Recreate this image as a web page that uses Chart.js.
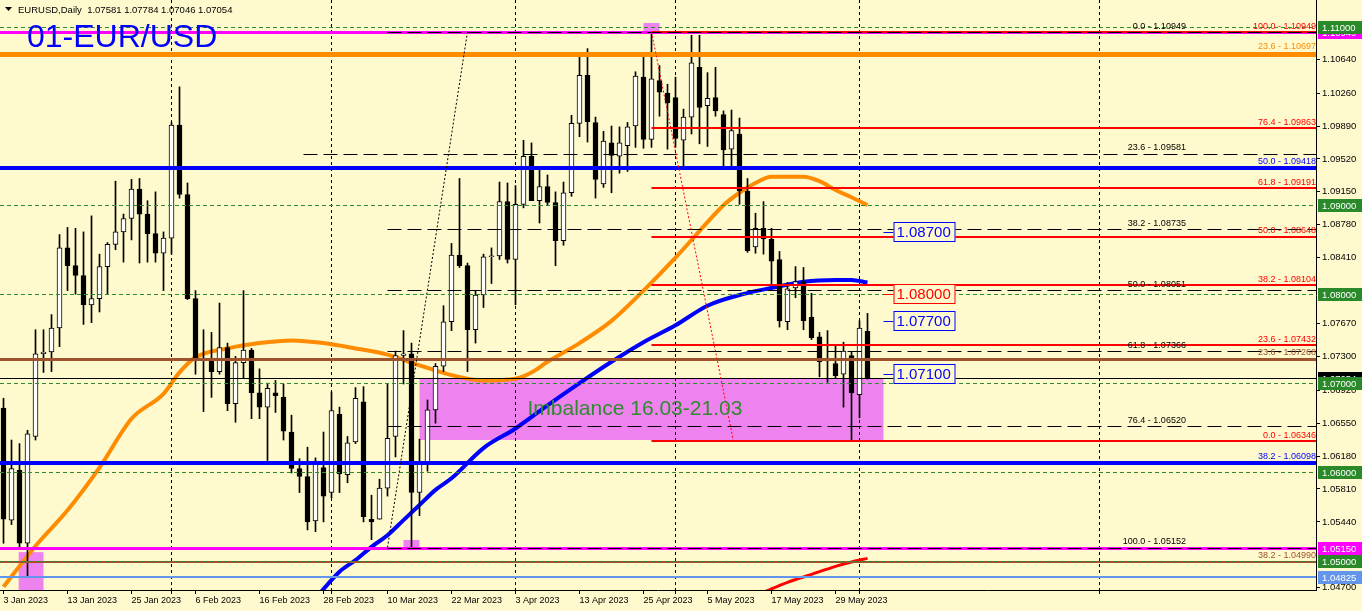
<!DOCTYPE html>
<html>
<head>
<meta charset="UTF-8">
<title>EURUSD Daily</title>
<script src="https://cdn.jsdelivr.net/npm/chart.js@4"></script>
<style>
  html, body { margin: 0; padding: 0; background: #fffacd; overflow: hidden; }
  canvas { display: block; }
</style>
</head>
<body>
<canvas id="c" width="1362" height="611"></canvas>
<script>
// daily candles, 3 Jan 2023 .. 2 Jun 2023 (index = bar number)
const opens = [1.0672,1.0546,1.0602,1.0520,1.0640,1.0733,1.0735,1.0762,1.0852,1.0832,1.0821,1.0788,1.0795,1.0831,1.0856,1.0870,1.0885,1.0918,1.0890,1.0868,1.0846,
  1.0863,1.0990,1.0912,1.0795,1.0727,1.0728,1.0713,1.0740,1.0677,1.0723,1.0737,1.0689,1.0673,1.0689,1.0684,1.0645,1.0604,1.0595,1.0545,1.0605,
  1.0577,1.0665,1.0597,1.0634,1.0679,1.0547,1.0547,1.0582,1.0640,1.0731,1.0733,1.0577,1.0611,1.0670,1.0719,1.0769,1.0844,1.0832,1.0760,1.0799,1.0842,1.0843,1.0904,
  1.0839,1.0901,1.0955,1.0905,1.0921,1.0903,1.0860,1.0914,1.0992,1.1046,1.0993,1.0924,1.0970,1.0955,1.0967,1.0989,1.1044,1.0974,1.1040,1.1026,
  1.1021,1.0973,1.0999,1.1055,1.1012,1.1021,1.1002,1.0963,1.0980,1.0916,1.0853,1.0874,1.0862,1.0839,1.0769,1.0807,1.0814,1.0774,1.0752,1.0726,1.0722,1.0710,1.0731,
  1.0687,1.07581];
const highs = [1.0683,1.0636,1.0632,1.0647,1.0760,1.0760,1.0777,1.0867,1.0875,1.0874,1.0870,1.0888,1.0845,1.0858,1.0927,1.0890,1.0929,1.0930,1.0905,1.0915,1.0870,
  1.0993,1.1033,1.0925,1.0804,1.0760,1.0757,1.0790,1.0745,1.0730,1.0804,1.0739,1.0716,1.0700,1.0703,1.0699,1.0664,1.0615,1.0628,1.0616,1.0645,
  1.0690,1.0673,1.0640,1.0695,1.0696,1.0574,1.0592,1.0699,1.0736,1.0759,1.0745,1.0637,1.0681,1.0722,1.0787,1.0857,1.0930,1.0835,1.0804,1.0845,1.0852,1.0926,1.0925,
  1.0922,1.0973,1.0970,1.0943,1.0934,1.0915,1.0926,1.1001,1.1068,1.1076,1.0999,1.0983,1.0989,1.0988,1.0993,1.1050,1.1068,1.1095,1.1057,1.1036,
  1.1044,1.1008,1.1091,1.1091,1.1049,1.1055,1.1006,1.1007,1.0998,1.0930,1.0891,1.0904,1.0874,1.0848,1.0813,1.0831,1.0830,1.0801,1.0757,1.0759,1.0743,1.0746,1.0735,
  1.0770,1.07784];
const lows = [1.0520,1.0541,1.0516,1.0482,1.0636,1.0712,1.0713,1.0741,1.0804,1.0800,1.0766,1.0768,1.0780,1.0800,1.0850,1.0836,1.0861,1.0835,1.0836,1.0836,1.0804,
  1.0845,1.0908,1.0794,1.0710,1.0668,1.0684,1.0710,1.0669,1.0656,1.0706,1.0660,1.0660,1.0613,1.0667,1.0636,1.0599,1.0577,1.0535,1.0533,1.0544,
  1.0571,1.0577,1.0588,1.0632,1.0544,1.0524,1.0547,1.0573,1.0617,1.0699,1.0516,1.0551,1.0601,1.0655,1.0713,1.0759,1.0830,1.0713,1.0745,1.0785,1.0812,1.0839,1.0835,
  1.0788,1.0897,1.0906,1.0880,1.0900,1.0832,1.0855,1.0910,1.0977,1.0971,1.0908,1.0920,1.0914,1.0936,1.0938,1.0965,1.0964,1.0965,1.1000,1.0963,
  1.0965,1.0942,1.0980,1.0969,1.0966,1.1000,1.0943,1.0942,1.0901,1.0847,1.0846,1.0845,1.0809,1.0763,1.0760,1.0796,1.0760,1.0749,1.0707,1.0701,1.0706,1.0673,1.0635,
  1.0661,1.07046];
const closes = [1.0547,1.0604,1.0520,1.0643,1.0733,1.0735,1.0762,1.0852,1.0832,1.0821,1.0788,1.0795,1.0831,1.0856,1.0870,1.0885,1.0918,1.0890,1.0868,1.0846,1.0863,
  1.0990,1.0912,1.0795,1.0727,1.0728,1.0713,1.0740,1.0677,1.0723,1.0737,1.0689,1.0673,1.0694,1.0686,1.0646,1.0604,1.0595,1.0544,1.0609,1.0573,
  1.0669,1.0598,1.0633,1.0683,1.0550,1.0544,1.0582,1.0638,1.0731,1.0733,1.0577,1.0611,1.0670,1.0719,1.0769,1.0844,1.0832,1.0760,1.0799,1.0842,1.0843,1.0904,1.0839,
  1.0901,1.0955,1.0905,1.0921,1.0903,1.0860,1.0914,1.0992,1.1046,1.0994,1.0929,1.0972,1.0956,1.0970,1.0988,1.1045,1.0974,1.1042,1.1027,1.1015,
  1.0975,1.0999,1.1060,1.1010,1.1020,1.1006,1.0962,1.0984,1.0916,1.0849,1.0874,1.0862,1.0837,1.0770,1.0806,1.0814,1.0770,1.0751,1.0724,1.0725,1.0708,1.0736,1.0689,
  1.0762,1.07054];

// moving averages (bar index -> value)
const orangeMaIdx = [0,4,8,12,16,20,22,24,28,32,36,40,44,48,52,56,60,64,66,68,72,76,80,84,88,90,92,94,96,100,102,104,106,108];
const orangeMa = [1.0471,1.0517,1.0557,1.0605,1.0660,1.0688,1.0712,1.0729,1.0739,1.0745,1.0748,1.0745,1.0739,1.0732,1.0720,1.0709,1.0703,1.0705,1.0712,1.0724,
  1.0745,1.0770,1.0804,1.0841,1.0881,1.0900,1.0914,1.0925,1.0932,1.0932,1.0927,1.0917,1.0909,1.0900];
const blueMaIdx = [39,42,44,46,48,50,52,54,56,60,64,68,72,76,80,84,88,92,96,100,104,106,108];
const blueMa = [1.0458,1.0488,1.0501,1.0516,1.0529,1.0546,1.0563,1.0580,1.0593,1.0627,1.0649,1.0675,1.0700,1.0724,1.0746,1.0765,1.0787,1.0799,1.0807,1.0814,1.0816,1.0816,1.0813];
const redMaIdx = [95,98,101,104,106,108];
const redMa = [1.0465,1.0476,1.0485,1.0494,1.0499,1.0503];

// axes
const xTickIdx = [0,8,16,24,32,40,48,56,64,72,80,88,96,104];
const xTickText = ['3 Jan 2023','13 Jan 2023','25 Jan 2023','6 Feb 2023','16 Feb 2023','28 Feb 2023','10 Mar 2023','22 Mar 2023','3 Apr 2023','13 Apr 2023','25 Apr 2023','5 May 2023','17 May 2023','29 May 2023'];
const monthIdx = [21,41,64,84,107,137];
const yTicks = [1.10640,1.10260,1.09890,1.09520,1.09150,1.08780,1.08410,1.07670,1.07300,1.06920,1.06550,1.06180,1.05810,1.05440,1.04700];

// drawn objects
const greenLevels = [1.11000,1.09000,1.08000,1.07000,1.06000,1.05000];
const redFib = [1.10949,1.09863,1.09191,1.08648,1.08104,1.07432,1.06346];
const redFibPct = ['100.0','76.4','61.8','50.0','38.2','23.6','0.0'];
const blackFib = [1.10949,1.09581,1.08735,1.08051,1.07366,1.06520,1.05152];
const blackFibPct = ['0.0','23.6','38.2','50.0','61.8','76.4','100.0'];
const magentaLevels = [1.10949,1.05150];
const orangeLevels = [1.10697];
const orangePct = ['23.6'];
const blueLevels = [1.09418,1.06098];
const bluePct = ['50.0','38.2'];
const brownLevels = [1.07268,1.04990];
const brownPct = ['23.6','38.2'];
const lightBlueLevels = [1.04825];
const bidPrice = 1.07054;
const priceTags = [1.08700,1.08000,1.07700,1.07100];
const priceTagColor = ['#0000ff','#ff0000','#0000ff','#0000ff'];
const imbalance = [52,110,1.07046,1.06361];
const marks = [[1.9,5,1.0510,1.0460],[50,52,1.05237,1.05125],[80,82,1.11048,1.10947]];
const blackTrend = [[48,1.05152],[58,1.10949]];
const redTrend = [[81,1.10949],[91.25,1.06346]];

const BG = '#fffacd';
const FONT = 'Liberation Sans, Arial, sans-serif';
const fmt = v => v.toFixed(5);

function hline(ctx, x1, x2, y, color, w, dash) {
  ctx.save();
  ctx.strokeStyle = color; ctx.lineWidth = w; ctx.setLineDash(dash || []);
  const yy = (w % 2) ? Math.round(y) + 0.5 : Math.round(y);
  ctx.beginPath(); ctx.moveTo(x1, yy); ctx.lineTo(x2, yy); ctx.stroke();
  ctx.restore();
}
function vline(ctx, x, y1, y2, color, dash) {
  ctx.save();
  ctx.strokeStyle = color; ctx.lineWidth = 1; ctx.setLineDash(dash || []);
  const xx = Math.round(x) + 0.5;
  ctx.beginPath(); ctx.moveTo(xx, y1); ctx.lineTo(xx, y2); ctx.stroke();
  ctx.restore();
}
function label(ctx, text, x, y, color, size, align) {
  ctx.save();
  ctx.font = size + 'px ' + FONT;
  ctx.fillStyle = color; ctx.textAlign = align || 'left'; ctx.textBaseline = 'bottom';
  ctx.fillText(text, x, y);
  ctx.restore();
}

const overlay = {
  id: 'overlay',
  beforeDraw(chart) {
    const ctx = chart.ctx;
    ctx.save(); ctx.fillStyle = BG; ctx.fillRect(0, 0, chart.width, chart.height); ctx.restore();
  },
  beforeDatasetsDraw(chart) {
    const ctx = chart.ctx, a = chart.chartArea, xs = chart.scales.x, ys = chart.scales.y;
    ctx.save();
    ctx.beginPath(); ctx.rect(a.left, a.top, a.right - a.left, a.bottom - a.top); ctx.clip();
    ctx.fillStyle = '#ee82ee';
    const [i1, i2, p1, p2] = imbalance;
    ctx.fillRect(xs.getPixelForValue(i1), ys.getPixelForValue(p1), xs.getPixelForValue(i2) - xs.getPixelForValue(i1), ys.getPixelForValue(p2) - ys.getPixelForValue(p1));
    marks.forEach(([m1, m2, q1, q2]) => {
      ctx.fillRect(xs.getPixelForValue(m1), ys.getPixelForValue(q1), xs.getPixelForValue(m2) - xs.getPixelForValue(m1), ys.getPixelForValue(q2) - ys.getPixelForValue(q1));
    });
    monthIdx.forEach(i => vline(ctx, xs.getPixelForValue(i) - 0.5, a.top, a.bottom, '#000', [3, 3]));
    ctx.restore();
  },
  afterDatasetsDraw(chart) {
    const ctx = chart.ctx, a = chart.chartArea, xs = chart.scales.x, ys = chart.scales.y;
    const L = a.left, R = a.right;
    ctx.save();
    ctx.beginPath(); ctx.rect(a.left, a.top, a.right - a.left, a.bottom - a.top); ctx.clip();

    magentaLevels.forEach(p => hline(ctx, L, R, ys.getPixelForValue(p), '#ff00ff', 3));
    orangeLevels.forEach(p => hline(ctx, L, R, ys.getPixelForValue(p), '#ff8c00', 5));
    blueLevels.forEach(p => hline(ctx, L, R, ys.getPixelForValue(p), '#0000ff', 4));
    hline(ctx, L, R, ys.getPixelForValue(brownLevels[0]), '#a0522d', 3);
    hline(ctx, L, R, ys.getPixelForValue(brownLevels[1]), '#a0522d', 2);
    lightBlueLevels.forEach(p => hline(ctx, L, R, ys.getPixelForValue(p), '#6495ed', 2));

    const fibStart = xs.getPixelForValue(81);
    redFib.forEach(p => hline(ctx, fibStart, R, ys.getPixelForValue(p), '#ff0000', 2));
    const bfStart = xs.getPixelForValue(48);
    blackFib.forEach((p, k) => hline(ctx, k === 1 ? xs.getPixelForValue(37.5) : bfStart, R, ys.getPixelForValue(p), '#000', 1, [14, 6]));

    greenLevels.forEach(p => hline(ctx, L, R, ys.getPixelForValue(p), '#2e8b2e', 1, [4, 3]));
    hline(ctx, L, R, ys.getPixelForValue(bidPrice), '#000', 1);

    // trend lines
    [[blackTrend, '#000'], [redTrend, '#ff0000']].forEach(([t, c]) => {
      ctx.save(); ctx.strokeStyle = c; ctx.lineWidth = 1; ctx.setLineDash([2, 2]);
      ctx.beginPath();
      ctx.moveTo(xs.getPixelForValue(t[0][0]), ys.getPixelForValue(t[0][1]));
      ctx.lineTo(xs.getPixelForValue(t[1][0]), ys.getPixelForValue(t[1][1]));
      ctx.stroke(); ctx.restore();
    });

    // level captions
    redFib.forEach((p, k) => label(ctx, redFibPct[k] + ' - ' + fmt(p), R, ys.getPixelForValue(p) - 1, '#ff0000', 9, 'right'));
    orangeLevels.forEach((p, k) => label(ctx, orangePct[k] + ' - ' + fmt(p), R, ys.getPixelForValue(p) - 3, '#ff8c00', 9, 'right'));
    blueLevels.forEach((p, k) => label(ctx, bluePct[k] + ' - ' + fmt(p), R, ys.getPixelForValue(p) - 2, '#0000ff', 9, 'right'));
    brownLevels.forEach((p, k) => label(ctx, brownPct[k] + ' - ' + fmt(p), R, ys.getPixelForValue(p) - 2, '#a0522d', 9, 'right'));
    const bfx = xs.getPixelForValue(147.8);
    blackFib.forEach((p, k) => label(ctx, blackFibPct[k] + ' - ' + fmt(p), bfx, ys.getPixelForValue(p) - 1, '#000', 9, 'right'));

    // price tags
    const tx0 = xs.getPixelForValue(110), tx1 = xs.getPixelForValue(111.25);
    priceTags.forEach((p, k) => {
      const y = Math.round(ys.getPixelForValue(p));
      hline(ctx, tx0, tx1, y, priceTagColor[k], 1);
      ctx.save();
      ctx.fillStyle = BG; ctx.fillRect(tx1, y - 9, 62, 19);
      ctx.strokeStyle = priceTagColor[k]; ctx.lineWidth = 1; ctx.strokeRect(tx1 + 0.5, y - 9.5, 61, 19);
      ctx.font = '15px ' + FONT; ctx.fillStyle = priceTagColor[k]; ctx.textBaseline = 'middle'; ctx.textAlign = 'left';
      ctx.fillText(fmt(p), tx1 + 3, y + 1);
      ctx.restore();
    });

    // texts
    label(ctx, 'Imbalance 16.03-21.03', xs.getPixelForValue(65.5), ys.getPixelForValue(1.06585), '#2e8b2e', 21, 'left');
    label(ctx, '01-EUR/USD', 27, 54, '#0000ff', 32, 'left');
    ctx.restore();

    // header
    ctx.save();
    ctx.fillStyle = '#000';
    ctx.beginPath(); ctx.moveTo(5, 7); ctx.lineTo(12, 7); ctx.lineTo(8.5, 11); ctx.closePath(); ctx.fill();
    ctx.restore();
    label(ctx, 'EURUSD,Daily  1.07581 1.07784 1.07046 1.07054', 18, 15, '#000', 9.5, 'left');
  },
  afterDraw(chart) {
    const ctx = chart.ctx, ys = chart.scales.y;
    const box = (p, bg) => {
      const y = Math.round(ys.getPixelForValue(p));
      ctx.save();
      ctx.fillStyle = bg; ctx.fillRect(1318, y - 6, 44, 13);
      ctx.fillStyle = '#fff'; ctx.font = '9.5px ' + FONT; ctx.textBaseline = 'middle'; ctx.textAlign = 'left';
      ctx.fillText(fmt(p), 1322, y + 1);
      ctx.restore();
    };
    box(magentaLevels[0], '#ff00ff');
    box(magentaLevels[1], '#ff00ff');
    box(bidPrice, '#000');
    greenLevels.forEach(p => box(p, '#2a8a2a'));
    lightBlueLevels.forEach(p => box(p, '#6495ed'));
  }
};

const xTicksAll = Array.from(new Set(xTickIdx.concat(monthIdx))).sort((a, b) => a - b);

new Chart(document.getElementById('c'), {
  type: 'bar',
  data: {
    datasets: [
      { type: 'line', label: 'MA orange', data: orangeMaIdx.map((x, k) => ({ x, y: orangeMa[k] })),
        borderColor: '#ff8c00', borderWidth: 4, pointRadius: 0, cubicInterpolationMode: 'monotone', order: 3 },
      { type: 'line', label: 'MA blue', data: blueMaIdx.map((x, k) => ({ x, y: blueMa[k] })),
        borderColor: '#0000ff', borderWidth: 4, pointRadius: 0, cubicInterpolationMode: 'monotone', order: 3 },
      { type: 'line', label: 'MA red', data: redMaIdx.map((x, k) => ({ x, y: redMa[k] })),
        borderColor: '#ff0000', borderWidth: 3, pointRadius: 0, cubicInterpolationMode: 'monotone', order: 3 },
      { label: 'wicks', data: lows.map((l, i) => ({ x: i, y: [l, highs[i]] })),
        backgroundColor: '#000', barThickness: 1, grouped: false, order: 2 },
      { label: 'bodies', data: opens.map((o, i) => ({ x: i, y: [o, closes[i]] })),
        backgroundColor: opens.map((o, i) => closes[i] >= o ? '#ffffff' : '#000000'),
        borderColor: '#000', borderWidth: 1, borderSkipped: false, barThickness: 5, minBarLength: 1,
        grouped: false, order: 1 }
    ]
  },
  options: {
    responsive: false,
    animation: false,
    events: [],
    layout: { padding: 0 },
    plugins: { legend: { display: false }, tooltip: { enabled: false } },
    scales: {
      x: {
        type: 'linear', min: -0.4375, max: 164.0625, offset: false,
        afterFit(s) { s.height = 21; s.paddingLeft = 0; s.paddingRight = 0; },
        afterBuildTicks(s) { s.ticks = xTicksAll.map(v => ({ value: v })); },
        ticks: {
          callback: v => { const k = xTickIdx.indexOf(v); return k >= 0 ? xTickText[k] : ''; },
          align: 'start', maxRotation: 0, autoSkip: false, color: '#000', padding: 1,
          font: { family: FONT, size: 9 }
        },
        grid: { drawOnChartArea: false, offset: false, tickLength: 4, tickColor: '#000' },
        border: { display: true, color: '#000' }
      },
      y: {
        type: 'linear', position: 'right', min: 1.046744, max: 1.113066,
        afterFit(s) { s.width = 46; s.paddingTop = 0; s.paddingBottom = 0; },
        afterBuildTicks(s) { s.ticks = yTicks.map(v => ({ value: v })); },
        ticks: { callback: v => fmt(v), color: '#000', padding: 2, autoSkip: false, font: { family: FONT, size: 9.5 } },
        grid: { drawOnChartArea: false, tickLength: 4, tickColor: '#000' },
        border: { display: true, color: '#000' }
      }
    }
  },
  plugins: [overlay]
});
</script>
</body>
</html>
